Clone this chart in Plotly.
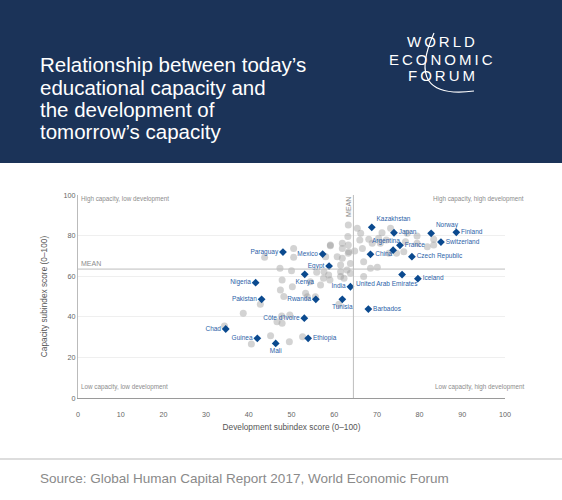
import plotly.graph_objects as go

# Moyennes (lignes MEAN)
mean_dev = 64.5
mean_cap = 63.5

# Pays mis en avant (losanges bleus)
pays = ['Paraguay', 'Mexico', 'Egypt', 'Kenya', 'Nigeria', 'India', 'Pakistan', 'Rwanda',
        'Tunisia', 'Kazakhstan', 'Japan', 'Norway', 'Finland', 'Switzerland', 'Argentina',
        'France', 'China', 'Czech Republic', 'United Arab Emirates', 'Iceland', 'Barbados',
        "Côte d'Ivoire", 'Chad', 'Guinea', 'Mali', 'Ethiopia']
pays_dev = [48.0, 57.3, 58.8, 53.1, 41.6, 63.8, 43.0, 55.7,
            61.9, 68.8, 74.0, 82.7, 88.6, 85.0, 73.8,
            75.4, 68.5, 78.2, 75.9, 79.6, 68.0,
            53.0, 34.6, 42.0, 46.3, 53.9]
pays_cap = [71.9, 70.9, 65.0, 60.9, 56.8, 54.8, 48.6, 48.6,
            48.6, 84.1, 81.4, 81.1, 81.6, 76.8, 72.8,
            75.2, 70.8, 69.6, 60.8, 58.8, 43.8,
            39.3, 34.0, 29.4, 26.9, 29.4]
pays_pos = ['middle left', 'middle left', 'middle left', 'bottom center', 'middle left',
            'middle left', 'middle left', 'middle left', 'bottom center', 'top right',
            'middle right', 'top right', 'middle right', 'middle right', 'top left',
            'middle right', 'middle right', 'middle right', 'bottom center', 'middle right',
            'middle right', 'middle left', 'middle left', 'middle left', 'bottom center',
            'middle right']

# Autres pays (points gris)
autres_dev = [63.3, 65.4, 66.2, 66.0, 68.1, 70.4, 71.2, 73.2, 72.2, 77.1, 79.4, 83.3, 83.3,
              70.8, 68.9, 76.7, 79.4, 81.8, 59.1, 59.1, 61.9, 61.9, 63.3, 63.4, 64.8, 66.6,
              60.7, 58.0, 63.3, 61.9, 63.8, 61.5, 66.9, 68.5, 70.1, 72.8, 74.6, 76.3, 63.0,
              61.5, 63.8, 63.2, 43.7, 50.5, 50.5, 47.3, 50.0, 55.9, 57.6, 58.7, 61.5, 62.3,
              59.0, 57.5, 66.9, 47.8, 54.4, 56.8, 47.4, 50.2, 48.2, 53.3, 53.7, 55.6, 61.1,
              42.7, 38.7, 47.7, 49.6, 46.6, 47.8, 34.3, 45.1, 52.6, 40.6, 49.5]
autres_cap = [85.2, 83.6, 81.1, 77.8, 78.2, 78.7, 81.4, 83.6, 77.8, 81.1, 79.8, 78.2, 75.4,
              76.2, 76.2, 77.0, 76.2, 74.5, 75.4, 75.0, 76.2, 73.7, 75.4, 72.1, 72.4, 73.7,
              69.6, 69.6, 71.3, 68.8, 66.3, 65.5, 67.1, 63.9, 64.4, 71.3, 71.3, 72.1, 63.1,
              62.2, 61.4, 79.5, 69.3, 73.7, 69.3, 63.9, 62.7, 61.9, 62.2, 60.6, 59.8, 59.0,
              58.1, 59.0, 59.8, 58.1, 57.3, 55.7, 53.2, 54.8, 50.0, 51.6, 49.9, 49.9, 46.2,
              46.2, 41.7, 40.4, 40.9, 37.6, 36.8, 35.5, 30.7, 30.2, 26.6, 27.7]

police = 'Liberation Sans, Arial, sans-serif'
bleu = '#0b4a8f'
bleu_texte = '#2c5fa8'

# Libellés placés à la main (décalage en pixels)
decalages = {'United Arab Emirates': (-15, -9), 'Argentina': (-7, 9)}


# Conversion pixels -> coordonnées papier (zone du graphique : x 78-505, y 195-398)
def px(x):
    return (x - 78) / 427


def py(y):
    return (398 - y) / 203


fig = go.Figure()

fig.add_trace(go.Scatter(x=autres_dev, y=autres_cap, mode='markers',
                         marker=dict(size=7, color='rgba(150,150,150,0.42)'),
                         hoverinfo='skip', showlegend=False))

textes = ['' if p in decalages else p for p in pays]
fig.add_trace(go.Scatter(x=pays_dev, y=pays_cap, mode='markers+text',
                         text=textes, textposition=pays_pos, hovertext=pays, hoverinfo='text',
                         textfont=dict(size=6.5, color=bleu_texte, family=police),
                         marker=dict(symbol='diamond', size=6, color=bleu),
                         showlegend=False))

for i, p in enumerate(pays):
    if p in decalages:
        dx, dy = decalages[p]
        fig.add_annotation(text=p, x=pays_dev[i], y=pays_cap[i], xshift=dx, yshift=dy,
                           showarrow=False, font=dict(size=6.5, color=bleu_texte, family=police))

# Lignes des moyennes
fig.add_vline(x=mean_dev, line=dict(color='#bdbdbd', width=1))
fig.add_hline(y=mean_cap, line=dict(color='#bdbdbd', width=1))

# Bandeau du titre
fig.add_shape(type='rect', xref='paper', yref='paper', x0=px(0), x1=px(562),
              y0=py(163), y1=py(0), fillcolor='#1b3358', line_width=0, layer='below')
# Ligne au-dessus de la source
fig.add_shape(type='line', xref='paper', yref='paper', x0=px(0), x1=px(562),
              y0=py(459), y1=py(459), line=dict(color='#dddddd', width=2))
# Arc du logo
fig.add_shape(type='path', xref='paper', yref='paper',
              path='M %f,%f Q %f,%f %f,%f' % (px(434), py(33), px(404), py(100), px(474), py(91)),
              line=dict(color='white', width=1.2))

titre = ['Relationship between today’s', 'educational capacity and',
         'the development of', 'tomorrow’s capacity']
for i, ligne in enumerate(titre):
    fig.add_annotation(text=ligne, xref='paper', yref='paper', x=px(38), y=py(65 + 22 * i),
                       xanchor='left', yanchor='middle', showarrow=False,
                       font=dict(size=20.5, color='white', family=police))

logo = ['W\u2009O\u2009R\u2009L\u2009D', 'E\u2009C\u2009O\u2009N\u2009O\u2009M\u2009I\u2009C',
        'F\u2009O\u2009R\u2009U\u2009M']
for i, mot in enumerate(logo):
    fig.add_annotation(text=mot, xref='paper', yref='paper', x=px(441), y=py(42 + 17 * i),
                       xanchor='center', yanchor='middle', showarrow=False,
                       font=dict(size=15, color='white', family=police))

fig.add_annotation(text='Source: Global Human Capital Report 2017, World Economic Forum',
                   xref='paper', yref='paper', x=px(38), y=py(478), xanchor='left',
                   yanchor='middle', showarrow=False,
                   font=dict(size=13.5, color='#8a8a8a', family=police))

# Libellés des quadrants
quadrants = [('High capacity, low development', px(79), py(199), 'left'),
             ('High capacity, high development', px(526), py(199), 'right'),
             ('Low capacity, low development', px(79), py(387), 'left'),
             ('Low capacity, high development', px(526), py(387), 'right')]
for texte, qx, qy, ancre in quadrants:
    fig.add_annotation(text=texte, xref='paper', yref='paper', x=qx, y=qy, xanchor=ancre,
                       yanchor='middle', showarrow=False,
                       font=dict(size=6.3, color='#8c8c8c', family=police))

fig.add_annotation(text='MEAN', x=0, y=mean_cap, xanchor='left', yanchor='bottom',
                   showarrow=False, xshift=1, font=dict(size=7, color='#8c8c8c', family=police))
fig.add_annotation(text='MEAN', x=mean_dev, y=1, yref='paper', xanchor='right', yanchor='top',
                   textangle=-90, showarrow=False,
                   font=dict(size=7, color='#8c8c8c', family=police))

fig.update_layout(
    width=562, height=500,
    margin=dict(l=78, r=57, t=195, b=102),
    paper_bgcolor='white', plot_bgcolor='white',
    font=dict(family=police),
    xaxis=dict(range=[0, 100], dtick=10, showgrid=False, zeroline=False,
               showline=True, linecolor='#9a9a9a', linewidth=1,
               ticks='outside', ticklen=9, tickcolor='rgba(0,0,0,0)',
               tickfont=dict(size=7.2, color='#666666'),
               title=dict(text='Development subindex score (0–100)', standoff=6,
                          font=dict(size=8.3, color='#555555'))),
    yaxis=dict(range=[0, 100], dtick=20, showgrid=True, gridcolor='#efefef', zeroline=False,
               showline=True, linecolor='#bbbbbb', linewidth=1,
               tickfont=dict(size=7.2, color='#666666'),
               title=dict(text='Capacity subindex score (0–100)', standoff=14,
                          font=dict(size=8.3, color='#555555'))),
)

# Marge du body supprimée pour coller à la fenêtre, sans barre d'outils
fig.write_html("out.html", config={'displayModeBar': False},
               post_script="document.body.style.margin='0';")
